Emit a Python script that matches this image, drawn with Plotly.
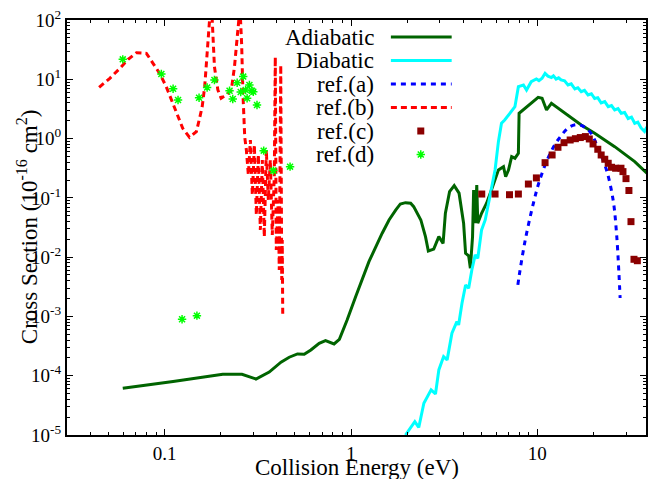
import plotly.graph_objects as go

# ---------------- data ----------------
adiabatic_E = [0.0596, 0.111, 0.205, 0.260, 0.309, 0.364, 0.421, 0.466, 0.516, 0.561, 0.609, 0.675,
               0.730, 0.811, 0.866, 0.953, 1.06, 1.248, 1.47, 1.60, 1.74, 1.84, 1.96, 2.09, 2.17, 2.37,
               2.51, 2.60, 2.78, 2.96, 3.12, 3.21, 3.38, 3.58, 3.80, 4.02, 4.12, 4.28, 4.37, 4.49,
               4.55, 4.64, 4.73, 4.79, 5.02, 5.34, 5.67, 5.93, 6.18, 6.58, 6.76, 7.00, 7.28, 7.58,
               7.91, 7.98, 8.58, 9.27, 10.1, 10.6, 11.2, 11.9, 12.6, 13.4, 14.6, 15.9, 17.2, 20.3,
               26.0, 33.3, 38.7]
adiabatic_sigma = [6.15e-5, 7.96e-5, 1.06e-4, 1.06e-4, 8.8e-5, 1.15e-4, 1.69e-4, 2.05e-4, 2.33e-4,
                   2.30e-4, 2.72e-4, 3.53e-4, 3.91e-4, 3.44e-4, 4.12e-4, 8.7e-4, 2.16e-3, 8.4e-3,
                   0.0253, 0.0424, 0.0625, 0.0789, 0.083, 0.081, 0.0711, 0.0424, 0.0222, 0.0127,
                   0.0137, 0.0222, 0.0171, 0.055, 0.127, 0.161, 0.120, 0.0373, 0.0116, 0.0105, 6.5e-3,
                   0.0222, 0.136, 0.0373, 0.165, 0.0373, 0.055, 0.081, 0.136, 0.200, 0.295, 0.336,
                   0.228, 0.295, 0.495, 0.466, 0.565, 2.67, 3.24, 3.94, 4.97, 4.78, 3.04, 3.94, 3.45,
                   3.04, 2.50, 2.06, 1.70, 1.23, 0.730, 0.408, 0.260]

diabatic_E = [1.96, 2.20, 2.31, 2.46, 2.69, 2.84, 2.96, 3.14, 3.28, 3.48, 3.70, 3.78, 3.94, 4.12,
              4.28, 4.45, 4.64, 4.79, 5.02, 5.25, 5.47, 5.67, 5.93, 6.18, 6.42, 6.68, 7.14, 7.58,
              7.91, 8.42, 8.75, 9.27, 9.88, 10.2, 10.6, 11.0, 11.4, 11.9, 12.2, 12.6, 13.0, 13.4,
              14.0, 14.6, 15.2, 15.9, 16.5, 17.2, 17.9, 18.7, 19.5, 20.3, 21.1, 22.0, 23.0, 24.0,
              25.0, 26.0, 27.1, 28.2, 29.4, 30.7, 32.0, 33.3, 34.6, 36.0, 37.6, 38.7]
diabatic_sigma = [1.0e-5, 1.68e-5, 1.34e-5, 3.44e-5, 5.77e-5, 4.93e-5, 1.25e-4, 2.10e-4, 1.85e-4,
                  5.21e-4, 8.17e-4, 7.19e-4, 1.67e-3, 3.40e-3, 2.99e-3, 6.08e-3, 0.0109, 9.58e-3,
                  0.0288, 0.0424, 0.081, 0.155, 0.295, 0.887, 1.81, 2.06, 2.67, 3.45, 7.50, 8.01,
                  6.60, 9.11, 10.1, 9.5, 10.4, 12.6, 11.3, 10.7, 11.4, 10.1, 10.6, 9.73, 9.4, 8.01,
                  8.4, 6.86, 7.2, 6.18, 6.5, 5.44, 5.7, 4.74, 4.9, 3.98, 4.2, 3.45, 3.6, 3.04, 3.2,
                  2.67, 2.75, 2.18, 2.3, 1.81, 1.9, 1.51, 1.32, 1.57]

refa_E = [7.86, 8.0, 8.58, 9.52, 10.3, 11.5, 12.9, 15.0, 16.9, 19.1, 21.2, 23.5, 25.5, 26.6, 27.4, 27.8]
refa_sigma = [3.4e-3, 5.0e-3, 0.0183, 0.081, 0.200, 0.495, 0.946, 1.59, 1.70, 1.31, 0.686, 0.295,
              0.092, 0.0253, 5.3e-3, 2.05e-3]

refb_E = [0.0445, 0.0508, 0.0575, 0.0637, 0.0706, 0.0798, 0.0866, 0.0940, 0.102, 0.113, 0.125,
          0.136, 0.148, 0.154, 0.159, 0.164, 0.167, 0.170, 0.175, 0.177, 0.180, 0.182, 0.185,
          0.193, 0.201, 0.214, 0.228, 0.237, 0.244, 0.250, 0.253, 0.256, 0.259, 0.263, 0.269,
          0.2745, 0.2813, 0.2884, 0.2955, 0.3029, 0.3105, 0.3182, 0.3262, 0.3343, 0.3426, 0.3512,
          0.3599, 0.3689, 0.3781, 0.3876, 0.3924, 0.3972, 0.4071, 0.4121, 0.4198, 0.4249, 0.4276,
          0.4303]
refb_sigma = [7.33, 10.4, 15.3, 21.7, 28.1, 27.4, 18.6, 12.6, 7.50, 3.45, 1.49, 1.05, 1.31, 2.20,
              3.45, 7.50, 16.3, 40.5, 100, 200, 100, 40.5, 16.3, 6.60, 4.78, 5.44, 6.60, 16.3, 40.5,
              100, 200, 100, 37.9, 5.87, 1.06, 0.642, 0.243, 0.946, 0.112, 0.780, 0.0515, 0.529,
              0.0288, 0.436, 0.0219, 0.642, 0.092, 0.436, 0.0237, 0.243, 23.8, 0.0132, 0.092,
              6.08e-3, 17.4, 4.13e-3, 0.0195, 1.02e-3]

refc_E = [5.03, 5.93, 7.09, 7.91, 8.95, 9.88, 11.0, 12.0, 12.9, 13.9, 15.0, 16.0, 17.0, 18.1, 19.0,
          19.9, 21.1, 22.0, 23.0, 24.0, 25.0, 26.3, 28.1, 28.8, 29.9, 31.0, 31.8, 33.0, 34.4]
refc_sigma = [0.116, 0.116, 0.113, 0.116, 0.171, 0.217, 0.392, 0.529, 0.713, 0.853, 0.946, 0.995,
              1.04, 1.08, 0.985, 0.811, 0.660, 0.529, 0.448, 0.383, 0.328, 0.316, 0.316, 0.277,
              0.211, 0.133, 0.0397, 9.2e-3, 8.7e-3]

refd_E = [0.0596, 0.0960, 0.111, 0.118, 0.124, 0.149, 0.153, 0.169, 0.185, 0.223, 0.232, 0.245,
          0.256, 0.264, 0.272, 0.277, 0.285, 0.294, 0.299, 0.313, 0.340, 0.383, 0.471]
refd_sigma = [21.7, 12.3, 6.94, 4.48, 8.97e-4, 1.03e-3, 4.88, 7.27, 9.73, 6.42, 4.65, 8.76, 6.11,
              11.1, 6.60, 4.78, 8.01, 6.42, 6.18, 3.69, 0.625, 0.288, 0.336]

series_names = ["Adiabatic", "Diabatic", "ref.(a)", "ref.(b)", "ref.(c)", "ref.(d)"]

y_tickvals = [1e-5, 1e-4, 1e-3, 1e-2, 1e-1, 1e0, 1e1, 1e2]
y_ticktext = ["10<sup>-5</sup>", "10<sup>-4</sup>", "10<sup>-3</sup>", "10<sup>-2</sup>",
              "10<sup>-1</sup>", "10<sup>0</sup>", "10<sup>1</sup>", "10<sup>2</sup>"]
x_tickvals = [0.1, 1, 10]
x_ticktext = ["0.1", "1", "10"]

# ---------------- styles ----------------
FONT = "Liberation Serif"
W, H = 649, 479
ML, MR, MT, MB = 67, 1, 20, 44
PW, PH = W - ML - MR, H - MT - MB

styles = {
    "Adiabatic": dict(mode="lines", line=dict(color="#006400", width=3)),
    "Diabatic": dict(mode="lines", line=dict(color="#00FFFF", width=3)),
    "ref.(a)": dict(mode="lines", line=dict(color="#0000FF", width=3, dash="5px,5px", shape="spline")),
    "ref.(b)": dict(mode="lines", line=dict(color="#FF0000", width=3, dash="6px,4px")),
    "ref.(c)": dict(mode="markers", marker=dict(symbol="square", size=7, color="#8B0000")),
    "ref.(d)": dict(mode="markers", marker=dict(symbol="asterisk-open", size=7,
                                                 line=dict(color="#00FF00", width=1.5), color="#00FF00")),
}

data = {
    "Adiabatic": (adiabatic_E, adiabatic_sigma),
    "Diabatic": (diabatic_E, diabatic_sigma),
    "ref.(a)": (refa_E, refa_sigma),
    "ref.(b)": (refb_E, refb_sigma),
    "ref.(c)": (refc_E, refc_sigma),
    "ref.(d)": (refd_E, refd_sigma),
}

fig = go.Figure()
draw_order = ["ref.(b)", "ref.(d)", "Adiabatic", "Diabatic", "ref.(a)", "ref.(c)"]
for name in draw_order:
    xs, ys = data[name]
    fig.add_trace(go.Scatter(x=xs, y=ys, name=name, showlegend=False, **styles[name]))

# ---------------- custom gnuplot-like key ----------------
def px_x(p):
    return (p - ML) / PW

def px_y(p):
    return 1 - (p - MT) / PH

key_rows = [37, 60.5, 84, 107.5, 131, 154.5]
key_text_right = 377
key_line = (392, 453)
key_mark = 422
annotations = []
for name, yp in zip(series_names, key_rows):
    st = styles[name]
    if st["mode"] == "lines":
        ln = dict(st["line"])
        ln.pop("shape", None)
        fig.add_trace(go.Scatter(x=[px_x(key_line[0]), px_x(key_line[1])], y=[px_y(yp)] * 2,
                                 mode="lines", line=ln, xaxis="x2", yaxis="y2", showlegend=False,
                                 hoverinfo="skip"))
    else:
        fig.add_trace(go.Scatter(x=[px_x(key_mark)], y=[px_y(yp)], mode="markers",
                                 marker=st["marker"], xaxis="x2", yaxis="y2", showlegend=False,
                                 hoverinfo="skip"))
    annotations.append(dict(text=name, x=px_x(key_text_right), y=px_y(yp), xref="paper", yref="paper",
                            xanchor="right", yanchor="middle", showarrow=False,
                            font=dict(family=FONT, size=23, color="black")))

annotations.append(dict(text="Collision Energy (eV)", x=0.5, y=px_y(467), xref="paper", yref="paper",
                        xanchor="center", yanchor="middle", showarrow=False,
                        font=dict(family=FONT, size=23, color="black")))
annotations.append(dict(text="Cross Section (10<sup>-16</sup> cm<sup>2</sup>)", x=px_x(27),
                        y=px_y(227), xref="paper", yref="paper", xanchor="center", yanchor="middle",
                        textangle=-90, showarrow=False, font=dict(family=FONT, size=23, color="black")))

x_minor = [0.04, 0.05, 0.06, 0.07, 0.08, 0.09, 0.2, 0.3, 0.4, 0.5, 0.6, 0.7, 0.8, 0.9,
           2, 3, 4, 5, 6, 7, 8, 9, 20, 30]
y_minor = [m * 10 ** e for e in range(-5, 2) for m in range(2, 10)]

axis_common = dict(showline=True, linecolor="black", linewidth=2, mirror="allticks", ticks="inside",
                   ticklen=6, tickwidth=1, tickcolor="black", showgrid=False, zeroline=False,
                   tickfont=dict(family=FONT, size=19, color="black"))

fig.update_layout(
    width=W, height=H,
    margin=dict(l=ML, r=MR, t=MT, b=MB, pad=0),
    paper_bgcolor="white", plot_bgcolor="white",
    showlegend=False,
    xaxis=dict(type="log", range=[-1.524, 1.583], tickmode="array", tickvals=x_tickvals,
               ticktext=x_ticktext,
               minor=dict(tickmode="array", tickvals=x_minor, ticks="inside", ticklen=3,
                          tickcolor="black", showgrid=False),
               **axis_common),
    yaxis=dict(type="log", range=[-5, 2], tickmode="array", tickvals=y_tickvals, ticktext=y_ticktext,
               minor=dict(tickmode="array", tickvals=y_minor, ticks="inside", ticklen=3,
                          tickcolor="black", showgrid=False),
               **axis_common),
    xaxis2=dict(overlaying="x", anchor="y2", range=[0, 1], visible=False),
    yaxis2=dict(overlaying="y", anchor="x2", range=[0, 1], visible=False),
    annotations=annotations,
)

fig.write_html("out.html")
